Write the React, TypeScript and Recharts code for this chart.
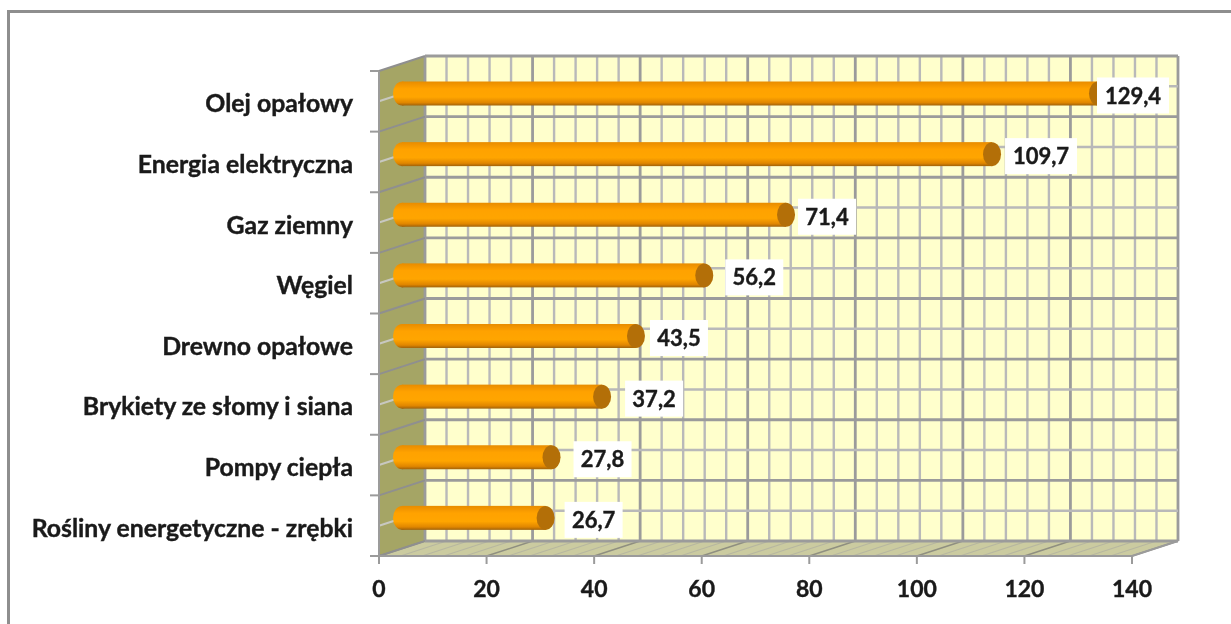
import React from "react";
import { Bar, BarChart, LabelList, XAxis, YAxis } from "recharts";

const categories = [
  "Olej opałowy",
  "Energia elektryczna",
  "Gaz ziemny",
  "Węgiel",
  "Drewno opałowe",
  "Brykiety ze słomy i siana",
  "Pompy ciepła",
  "Rośliny energetyczne - zrębki",
];
const values = [129.4, 109.7, 71.4, 56.2, 43.5, 37.2, 27.8, 26.7];
const xTicks = [0, 20, 40, 60, 80, 100, 120, 140];
const minorStep = 4;
// how far each label was dragged from the end of its bar, in px
const labelShift = [35, 49, 41, 50, 43, 52, 51, 48];

const data = categories.map((name, i) => ({ name, value: values[i] }));

const W = 1231;
const H = 624;
const LEFT = 379;
const RIGHT = 1132;
const TOP = 71;
const BOTTOM = 556;
const DX = 46;
const DY = 15;
const BAND = (BOTTOM - TOP) / categories.length;
const MAJOR = "#9b9b9b";
const MINOR = "#b9b9b9";
const FONT = "Lato, sans-serif";
const INK = "#1a1a1a";

function fmt(v: number) {
  return v.toFixed(1).replace(".", ",");
}

function xPos(v: number) {
  return LEFT + (v / xTicks[xTicks.length - 1]) * (RIGHT - LEFT);
}

function minorValues() {
  const out: number[] = [];
  for (let v = 0; v <= xTicks[xTicks.length - 1]; v += minorStep) out.push(v);
  return out;
}

function Walls() {
  const backL = LEFT + DX;
  const backR = RIGHT + DX;
  const backT = TOP - DY;
  const backB = BOTTOM - DY;
  const rows = categories.length * 2;
  const rowY = Array.from({ length: rows + 1 }, (_, i) => i);
  return (
    <g>
      <polygon points={`${LEFT},${TOP} ${backL},${backT} ${backL},${backB} ${LEFT},${BOTTOM}`} fill="#a5a565" />
      <polygon points={`${LEFT},${BOTTOM} ${backL},${backB} ${backR},${backB} ${RIGHT},${BOTTOM}`} fill="#cbcba0" />
      <rect x={backL} y={backT} width={RIGHT - LEFT} height={BOTTOM - TOP} fill="#ffffcc" />
      {minorValues().map((v) => {
        const isMajor = xTicks.includes(v);
        return (
          <g key={v}>
            <line x1={xPos(v)} y1={BOTTOM} x2={xPos(v) + DX} y2={backB} stroke={isMajor ? "#8f8f80" : "#b7b7a0"} strokeWidth={isMajor ? 1.5 : 1.2} />
            <line x1={xPos(v) + DX} y1={backT} x2={xPos(v) + DX} y2={backB} stroke={isMajor ? MAJOR : MINOR} strokeWidth={isMajor ? 2.8 : 2.4} />
          </g>
        );
      })}
      {rowY.map((i) => {
        const isMajor = i % 2 === 0;
        const y = TOP + (i * BAND) / 2;
        return (
          <g key={i}>
            <line x1={LEFT} y1={y} x2={backL} y2={y - DY} stroke={isMajor ? "#8f8f8f" : "#c8c8c0"} strokeWidth={2} />
            <line x1={backL} y1={y - DY} x2={backR} y2={y - DY} stroke={isMajor ? MAJOR : MINOR} strokeWidth={isMajor ? 2.8 : 2.4} />
          </g>
        );
      })}
      <line x1={RIGHT} y1={BOTTOM} x2={backR} y2={backB} stroke={MAJOR} strokeWidth={2} />
    </g>
  );
}

function CategoryTick(props: any) {
  const { x, y, payload, index } = props;
  const mark = y - BAND / 2;
  return (
    <g>
      <line x1={LEFT - 9} y1={mark} x2={LEFT} y2={mark} stroke={MAJOR} strokeWidth={2} />
      {index === categories.length - 1 && (
        <line x1={LEFT - 9} y1={mark + BAND} x2={LEFT} y2={mark + BAND} stroke={MAJOR} strokeWidth={2} />
      )}
      <text x={x - 18} y={y + 11} textAnchor="end" fontFamily={FONT} fontWeight={700} fontSize={24.8} fill={INK} stroke={INK} strokeWidth={0.4}>
        {payload.value}
      </text>
    </g>
  );
}

function CylinderBar(props: any) {
  const { x, y, width, height } = props;
  const left = x + DX / 2;
  const top = y - DY / 2;
  const rx = 9;
  const ry = height / 2;
  const cy = top + ry;
  return (
    <g>
      <ellipse cx={left} cy={cy} rx={rx} ry={ry} fill="url(#cyl)" />
      <rect x={left} y={top} width={width} height={height} fill="url(#cyl)" />
      <ellipse cx={left + width} cy={cy} rx={rx} ry={ry} fill="#b36f08" />
    </g>
  );
}

function ValueLabel(props: any) {
  const { x, y, width, height, value, index } = props;
  const cx = x + DX / 2 + width + labelShift[index];
  const cy = y - DY / 2 + height / 2 + 2;
  const w = value >= 100 ? 72 : 58;
  return (
    <g>
      <rect x={cx - w / 2} y={cy - 18} width={w} height={36} fill="#ffffff" />
      <text x={cx} y={cy + 8} textAnchor="middle" fontFamily={FONT} fontWeight={700} fontSize={22} fill={INK} stroke={INK} strokeWidth={0.4}>
        {fmt(value)}
      </text>
    </g>
  );
}

export default function App() {
  return (
    <div style={{ position: "absolute", left: 0, top: 0, width: W, height: H, background: "#fff", overflow: "hidden", filter: "blur(0.5px)" }}>
      <div style={{ position: "absolute", left: 7, top: 10, width: W, height: H, borderLeft: "3px solid #8e8e8e", borderTop: "3px solid #8e8e8e", boxSizing: "border-box" }} />
      <div style={{ position: "absolute", left: 0, top: 0 }}>
        <BarChart
          width={W}
          height={H}
          data={data}
          layout="vertical"
          barSize={24}
          margin={{ top: TOP, right: W - RIGHT, bottom: 0, left: 0 }}
        >
          <defs>
            <linearGradient id="cyl" x1="0" y1="0" x2="0" y2="1">
              <stop offset="0" stopColor="#e88c00" />
              <stop offset="0.3" stopColor="#ffa200" />
              <stop offset="0.65" stopColor="#ffa500" />
              <stop offset="0.88" stopColor="#e08600" />
              <stop offset="1" stopColor="#a0620a" />
            </linearGradient>
          </defs>
          <Walls />
          <XAxis
            type="number"
            domain={[0, 140]}
            ticks={xTicks}
            height={H - BOTTOM}
            stroke={MAJOR}
            strokeWidth={2}
            tickSize={8}
            tickMargin={17}
            tick={{ fontFamily: FONT, fontWeight: 700, fontSize: 23, fill: INK, stroke: INK, strokeWidth: 0.4 }}
          />
          <YAxis
            type="category"
            dataKey="name"
            width={LEFT}
            stroke={MAJOR}
            strokeWidth={2}
            tickLine={false}
            interval={0}
            tick={<CategoryTick />}
          />
          <Bar dataKey="value" shape={<CylinderBar />} isAnimationActive={false}>
            <LabelList dataKey="value" content={<ValueLabel />} />
          </Bar>
        </BarChart>
      </div>
    </div>
  );
}
